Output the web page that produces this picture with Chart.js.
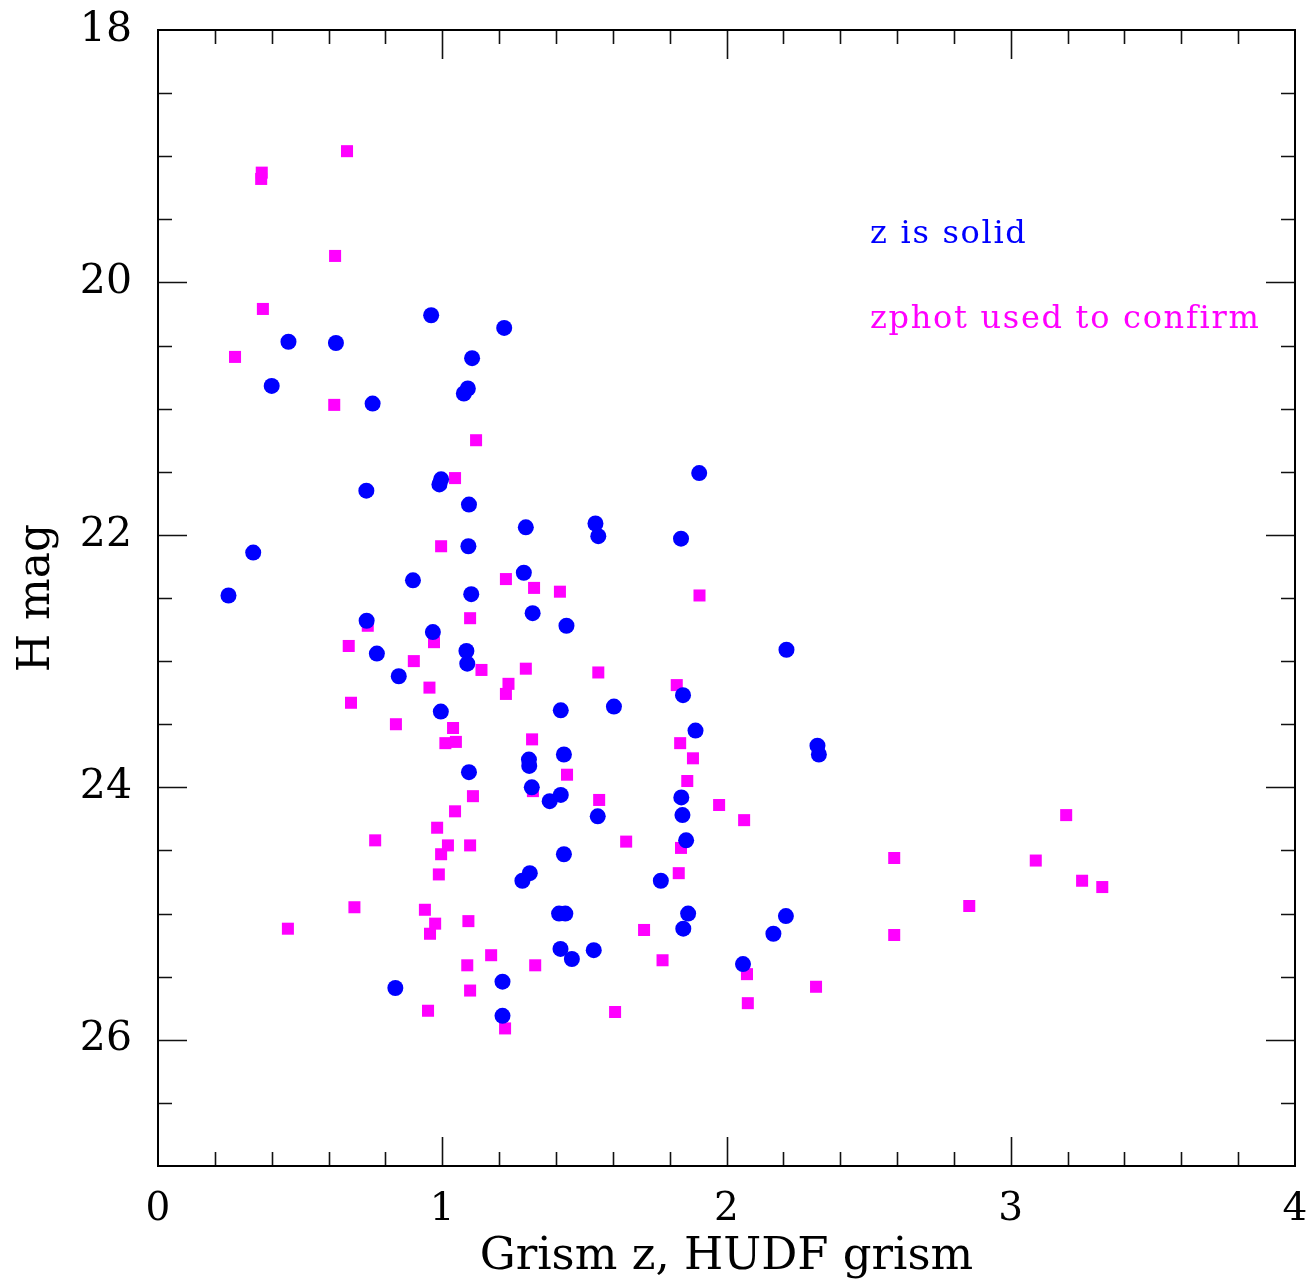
<!DOCTYPE html>
<html><head><meta charset="utf-8">
<script src="https://cdn.jsdelivr.net/npm/chart.js@4/dist/chart.umd.min.js"></script>
<style>html,body{margin:0;padding:0;background:#fff}</style>
</head><body>
<canvas id="c" width="1310" height="1283"></canvas>
<script>
// Blue solid circles: grism z is solid
const blueZ = [0.961,1.218,0.459,0.626,1.105,0.400,1.090,1.076,0.755,1.904,0.996,0.990,0.733,1.094,1.539,1.294,1.549,1.840,0.335,1.092,1.287,0.897,0.248,1.102,1.318,0.734,1.437,0.967,2.211,1.085,0.770,1.088,0.847,1.847,1.604,1.417,0.995,1.891,2.320,1.428,2.325,1.305,1.306,1.094,1.315,1.417,1.841,1.378,1.845,1.547,1.858,1.428,1.308,1.282,1.769,1.411,1.433,1.865,2.209,1.848,2.165,1.416,1.533,1.456,2.058,1.212,0.835,1.212];
const blueH = [20.26,20.36,20.47,20.48,20.60,20.82,20.84,20.88,20.96,21.51,21.56,21.60,21.65,21.76,21.91,21.94,22.01,22.03,22.14,22.09,22.30,22.36,22.48,22.47,22.62,22.68,22.72,22.77,22.91,22.92,22.94,23.02,23.12,23.27,23.36,23.39,23.40,23.55,23.67,23.74,23.74,23.78,23.83,23.88,24.00,24.06,24.08,24.11,24.22,24.23,24.42,24.53,24.68,24.74,24.74,25.00,25.00,25.00,25.02,25.12,25.16,25.28,25.29,25.36,25.40,25.54,25.59,25.81];
// Magenta squares: zphot used to confirm
const magZ = [0.665,0.365,0.363,0.623,0.369,0.271,0.620,1.119,1.045,0.996,1.224,1.323,1.414,1.905,1.098,0.738,0.671,0.971,0.900,1.138,1.294,1.549,1.233,1.825,0.955,1.224,0.679,0.837,1.038,1.316,1.011,1.048,1.837,1.882,1.439,1.862,1.319,1.108,1.552,1.974,1.045,3.195,2.062,0.982,0.764,1.647,1.020,1.098,1.840,0.996,2.590,3.088,1.832,0.988,3.251,3.322,2.854,0.691,0.939,1.092,0.975,0.457,1.710,0.957,2.590,1.172,1.775,1.088,1.327,2.072,2.315,1.098,2.075,0.950,1.608,1.221];
const magH = [18.96,19.13,19.18,19.79,20.21,20.59,20.97,21.25,21.55,22.09,22.35,22.42,22.45,22.48,22.66,22.72,22.88,22.85,23.00,23.07,23.06,23.09,23.18,23.19,23.21,23.26,23.33,23.50,23.53,23.62,23.65,23.64,23.65,23.77,23.90,23.95,24.03,24.07,24.10,24.14,24.19,24.22,24.26,24.32,24.42,24.43,24.46,24.46,24.48,24.53,24.56,24.58,24.68,24.69,24.74,24.79,24.94,24.95,24.97,25.06,25.08,25.12,25.13,25.16,25.17,25.33,25.37,25.41,25.41,25.48,25.58,25.61,25.71,25.77,25.78,25.91];

const xTickLabels = [0,1,2,3,4];
const yTickLabels = [18,20,22,24,26];
const xTitle = 'Grism z, HUDF grism';
const yTitle = 'H mag';
const noteTexts = ['z is solid','zphot used to confirm'];
const noteColors = ['#0000ff','#ff00ff'];
const noteZ = [2.505, 2.505];
const noteH = [19.69, 20.36];

const bluePts = blueZ.map((z,i)=>({x:z,y:blueH[i]}));
const magPts = magZ.map((z,i)=>({x:z,y:magH[i]}));

const framePlugin = {
  id:'frame',
  afterDraw(chart){
    const ctx = chart.ctx, xs = chart.scales.x, ys = chart.scales.y;
    const L = xs.getPixelForValue(0), R = xs.getPixelForValue(4);
    const T = ys.getPixelForValue(18), B = ys.getPixelForValue(27);
    ctx.save();
    ctx.strokeStyle = '#111';
    ctx.lineWidth = 1.6;
    for (let i=1;i<20;i++){
      const v = i*0.2, px = Math.round(xs.getPixelForValue(v))+0.5;
      const len = (i%5===0)?29:14;
      ctx.beginPath();
      ctx.moveTo(px,B); ctx.lineTo(px,B-len);
      ctx.moveTo(px,T); ctx.lineTo(px,T+len);
      ctx.stroke();
    }
    for (let i=1;i<18;i++){
      const v = 18+i*0.5, py = Math.round(ys.getPixelForValue(v))+0.5;
      const len = (i%4===0)?29:14;
      ctx.beginPath();
      ctx.moveTo(L,py); ctx.lineTo(L+len,py);
      ctx.moveTo(R,py); ctx.lineTo(R-len,py);
      ctx.stroke();
    }
    ctx.lineWidth = 2;
    ctx.strokeStyle = '#000';
    ctx.strokeRect(L,T,R-L,B-T);
    ctx.font = '32px "DejaVu Serif"';
    ctx.letterSpacing = '1.7px';
    ctx.textBaseline = 'alphabetic';
    ctx.textAlign = 'left';
    noteTexts.forEach((t,i)=>{
      ctx.fillStyle = noteColors[i];
      ctx.fillText(t, xs.getPixelForValue(noteZ[i]), ys.getPixelForValue(noteH[i]));
    });
    ctx.restore();
  }
};

new Chart(document.getElementById('c'), {
  type:'scatter',
  data:{datasets:[
    {label:'z is solid', data:bluePts, pointStyle:'circle', pointRadius:8, pointHoverRadius:8, backgroundColor:'#0000ff', borderWidth:0},
    {label:'zphot used to confirm', data:magPts, pointStyle:'rect', pointRadius:8.5, pointHoverRadius:8.5, backgroundColor:'#ff00ff', borderWidth:0}
  ]},
  options:{
    responsive:false, animation:false, devicePixelRatio:1,
    layout:{padding:{top:30,right:15,left:0,bottom:0}},
    plugins:{legend:{display:false}, tooltip:{enabled:false}},
    events:[],
    scales:{
      x:{type:'linear', min:0, max:4, position:'bottom',
        afterBuildTicks:s=>{s.ticks = xTickLabels.map(v=>({value:v}));},
        afterFit:s=>{s.height = 117; s.paddingLeft = 0; s.paddingRight = 0;},
        grid:{display:false}, border:{display:false},
        ticks:{font:{family:'DejaVu Serif', size:39}, color:'#000', padding:12, maxRotation:0, autoSkip:false},
        title:{display:true, text:xTitle, font:{family:'DejaVu Serif', size:45}, color:'#000', padding:{top:0,bottom:-1}}
      },
      y:{type:'linear', min:18, max:27, reverse:true, position:'left',
        afterBuildTicks:s=>{s.ticks = yTickLabels.map(v=>({value:v}));},
        afterFit:s=>{s.width = 158; s.paddingTop = 0; s.paddingBottom = 0;},
        grid:{display:false}, border:{display:false},
        ticks:{font:{family:'DejaVu Serif', size:41}, color:'#000', padding:18, autoSkip:false},
        title:{display:true, text:yTitle, font:{family:'DejaVu Serif', size:44}, color:'#000', padding:{top:11,bottom:0}}
      }
    }
  },
  plugins:[framePlugin]
});
</script>
</body></html>
